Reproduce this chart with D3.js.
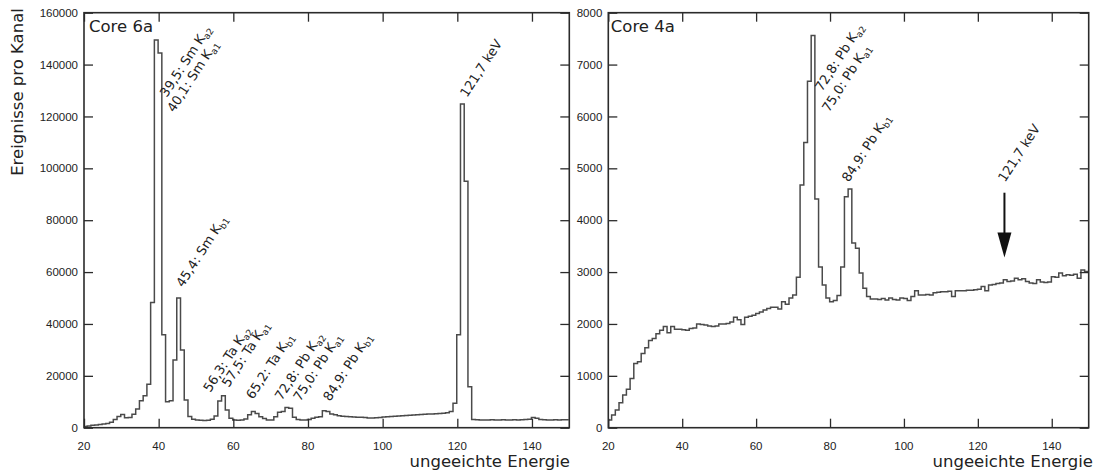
<!DOCTYPE html>
<html>
<head>
<meta charset="utf-8">
<script src="https://cdn.jsdelivr.net/npm/d3@7"></script>
<style>
  html, body { margin: 0; padding: 0; background: #fff; }
  svg { display: block; }
  .tick-label { font-family: "Liberation Sans", Arial, sans-serif; font-size: 11.5px; fill: #222; }
  .big-label { font-family: "DejaVu Sans", Verdana, sans-serif; font-size: 16.5px; fill: #222; }
  .peak-label { font-family: "DejaVu Sans", Verdana, sans-serif; font-size: 13px; fill: #222; }
</style>
</head>
<body>
<svg id="chart" width="1097" height="472"></svg>
<script>
// Energy channels (first channel of each 1-unit bin)
const channels = d3.range(20, 150);

// Core 6a: counts per channel
const core6aCounts = [
  500, 700, 900, 1000, 1200, 1400, 1600, 2100, 3200, 4300,
  5100, 3800, 3900, 5200, 7200, 10400, 12300, 16800, 48300, 149500,
  144500, 35800, 10000, 10400, 26100, 50000, 30000, 10700, 4300, 3300,
  3000, 2900, 2800, 2900, 3300, 4500, 10300, 12300, 6800, 3600,
  3000, 2900, 3000, 3400, 5000, 6200, 5500, 4200, 3500, 3000,
  3000, 4200, 6000, 6200, 7800, 7500, 4000, 3200, 3000, 3000,
  3200, 3600, 4000, 4200, 6500, 6200, 5300, 5000, 4600, 4400,
  4300, 4200, 4100, 4000, 4000, 3900, 3700, 3700, 3800, 3900,
  4100, 4200, 4300, 4400, 4500, 4600, 4700, 4800, 4900, 5000,
  5100, 5200, 5300, 5300, 5400, 5500, 5600, 5800, 6200, 9400,
  35800, 124800, 95000, 15800, 3200, 3100, 3000, 3000, 3000, 3100,
  3000, 3000, 3100, 3000, 3000, 3100, 3000, 3100, 3200, 3300,
  3900, 3600, 3200, 3100, 3000, 3000, 3100, 3000, 3100, 3100
];

// Core 4a: counts per channel
const core4aCounts = [
  150, 245, 340, 480, 630, 740, 950, 1240, 1270, 1430,
  1540, 1680, 1720, 1810, 1880, 1950, 1830, 1950, 1900, 1900,
  1890, 1880, 1910, 1920, 2000, 1990, 1980, 1960, 1950, 1960,
  2000, 2000, 2010, 2040, 2130, 2080, 1990, 2130, 2150, 2170,
  2200, 2230, 2270, 2300, 2320, 2320, 2290, 2430, 2380, 2500,
  2560, 2900, 4680, 5500, 6680, 7560, 4410, 3100, 2750, 2500,
  2430, 2450, 2550, 3100, 4450, 4600, 3560, 3460, 2980, 2690,
  2530, 2480, 2480, 2470, 2490, 2460, 2500, 2470, 2460, 2500,
  2490, 2450, 2530, 2640, 2560, 2560, 2570, 2560, 2600, 2610,
  2620, 2620, 2630, 2530, 2640, 2640, 2640, 2650, 2650, 2660,
  2670, 2720, 2640, 2750, 2760, 2780, 2790, 2850, 2820, 2830,
  2880, 2850, 2870, 2820, 2790, 2780, 2850, 2810, 2800, 2810,
  2910, 2900, 2980, 2930, 2950, 2940, 2960, 2880, 3040, 3010
];

// Axis ticks
const energyTicks = [20, 40, 60, 80, 100, 120, 140];
const core6aTicks = [0, 20000, 40000, 60000, 80000, 100000, 120000, 140000, 160000];
const core4aTicks = [0, 1000, 2000, 3000, 4000, 5000, 6000, 7000, 8000];

// Peak labels: text, subscript, anchor position (energy, counts)
const core6aLabelText = ["39,5: Sm K", "40,1: Sm K", "45,4: Sm K", "56,3: Ta K", "57,5: Ta K",
                         "65,2: Ta K", "72,8: Pb K", "75,0: Pb K", "84,9: Pb K", "121,7 keV"];
const core6aLabelSub  = ["a2", "a1", "b1", "a2", "a1", "b1", "a2", "a1", "b1", ""];
const core6aLabelX    = [42.2, 44.1, 46.5, 53.8, 58.8, 65.3, 73.0, 77.9, 85.9, 122.6];
const core6aLabelY    = [127100, 121300, 53900, 13400, 15300, 10700, 10300, 9900, 9900, 127100];

const core4aLabelText = ["72,8: Pb K", "75,0: Pb K", "84,9: Pb K", "121,7 keV"];
const core4aLabelSub  = ["a2", "a1", "b1", ""];
const core4aLabelX    = [77.8, 79.7, 85.1, 127.35];
const core4aLabelY    = [6470, 6070, 4720, 4720];

// Arrow marking the expected 121,7 keV position in Core 4a
const core4aArrow = { x: 127.2, from: 4530, to: 3280 };

const svg = d3.select("#chart");
const frameColor = "#2b2b2b";
const lineColor = "#4a4a4a";

function drawPanel(opt) {
  const x = d3.scaleLinear().domain([20, 150]).range([opt.left, opt.right]);
  const y = d3.scaleLinear().domain([0, opt.yMax]).range([opt.bottom, opt.top]);
  const g = svg.append("g");
  const tickLen = 9;

  // clip for the histogram
  const clipId = "clip-" + opt.name;
  svg.append("clipPath").attr("id", clipId)
    .append("rect").attr("x", opt.left).attr("y", opt.top)
    .attr("width", opt.right - opt.left).attr("height", opt.bottom - opt.top);

  // histogram steps
  const pts = channels.map((c, i) => [c + opt.binOffset, opt.counts[i]]);
  pts.push([channels[channels.length - 1] + 1 + opt.binOffset, opt.counts[opt.counts.length - 1]]);
  const line = d3.line().x(d => x(d[0])).y(d => y(d[1])).curve(d3.curveStepAfter);
  g.append("path")
    .attr("clip-path", `url(#${clipId})`)
    .attr("d", line(pts))
    .attr("fill", "none")
    .attr("stroke", lineColor)
    .attr("stroke-width", 1.5);

  // axes, inward ticks on all four sides
  const axB = d3.axisBottom(x).tickValues(energyTicks).tickSizeInner(-tickLen).tickSizeOuter(0).tickFormat("");
  const axT = d3.axisTop(x).tickValues(energyTicks).tickSizeInner(-tickLen).tickSizeOuter(0).tickFormat("");
  const axL = d3.axisLeft(y).tickValues(opt.yTicks).tickSizeInner(-tickLen).tickSizeOuter(0).tickFormat("");
  const axR = d3.axisRight(y).tickValues(opt.yTicks).tickSizeInner(-tickLen).tickSizeOuter(0).tickFormat("");
  const axes = [
    [axB, `translate(0,${opt.bottom})`],
    [axT, `translate(0,${opt.top})`],
    [axL, `translate(${opt.left},0)`],
    [axR, `translate(${opt.right},0)`]
  ];
  axes.forEach(([ax, tr]) => {
    const a = g.append("g").attr("transform", tr).call(ax);
    a.select(".domain").remove();
    a.selectAll("line").attr("stroke", frameColor).attr("stroke-width", 1.3);
  });

  g.append("rect")
    .attr("x", opt.left).attr("y", opt.top)
    .attr("width", opt.right - opt.left).attr("height", opt.bottom - opt.top)
    .attr("fill", "none").attr("stroke", frameColor).attr("stroke-width", 1.6);

  // tick labels
  g.selectAll(".xl").data(energyTicks).enter().append("text")
    .attr("class", "tick-label")
    .attr("x", d => x(d)).attr("y", opt.bottom + 22)
    .attr("text-anchor", "middle")
    .text(d => d);
  g.selectAll(".yl").data(opt.yTicks).enter().append("text")
    .attr("class", "tick-label")
    .attr("x", opt.left - 6).attr("y", d => y(d)).attr("dy", "0.36em")
    .attr("text-anchor", "end")
    .text(d => d);

  // axis title
  g.append("text").attr("class", "big-label")
    .attr("x", opt.titleRight).attr("y", 467)
    .attr("text-anchor", "end")
    .text("ungeeichte Energie");

  // panel name
  g.append("text").attr("class", "big-label")
    .attr("x", opt.left + opt.nameDx).attr("y", 32)
    .text(opt.title);

  // peak labels
  opt.labelText.forEach((t, i) => {
    const tx = g.append("text").attr("class", "peak-label")
      .attr("transform", `translate(${x(opt.labelX[i])},${y(opt.labelY[i])}) rotate(-57)`);
    tx.append("tspan").text(t);
    if (opt.labelSub[i]) {
      tx.append("tspan").attr("font-size", "9px").attr("dy", 3).text(opt.labelSub[i]);
    }
  });

  return { x, y, g };
}

const p6 = drawPanel({
  name: "core6a", title: "Core 6a", nameDx: 5,
  left: 84, right: 569.3, top: 12.7, bottom: 427.7,
  yMax: 160000, yTicks: core6aTicks, counts: core6aCounts, binOffset: -0.15,
  labelText: core6aLabelText, labelSub: core6aLabelSub, labelX: core6aLabelX, labelY: core6aLabelY,
  titleRight: 570
});

const p4 = drawPanel({
  name: "core4a", title: "Core 4a", nameDx: 2.5,
  left: 608.3, right: 1088.7, top: 12.7, bottom: 427.7,
  yMax: 8000, yTicks: core4aTicks, counts: core4aCounts, binOffset: -0.1,
  labelText: core4aLabelText, labelSub: core4aLabelSub, labelX: core4aLabelX, labelY: core4aLabelY,
  titleRight: 1093
});

// y axis title
svg.append("text").attr("class", "big-label")
  .attr("transform", "translate(23,92) rotate(-90)")
  .attr("text-anchor", "middle")
  .text("Ereignisse pro Kanal");

// arrow in Core 4a
{
  const ax = p4.x(core4aArrow.x);
  const y0 = p4.y(core4aArrow.from);
  const y1 = p4.y(core4aArrow.to);
  const headLen = 25, headHalf = 7;
  p4.g.append("line")
    .attr("x1", ax).attr("x2", ax).attr("y1", y0).attr("y2", y1 - headLen + 2)
    .attr("stroke", "#111").attr("stroke-width", 2);
  p4.g.append("path")
    .attr("d", `M${ax - headHalf},${y1 - headLen} L${ax + headHalf},${y1 - headLen} L${ax},${y1} Z`)
    .attr("fill", "#111");
}
</script>
</body>
</html>
